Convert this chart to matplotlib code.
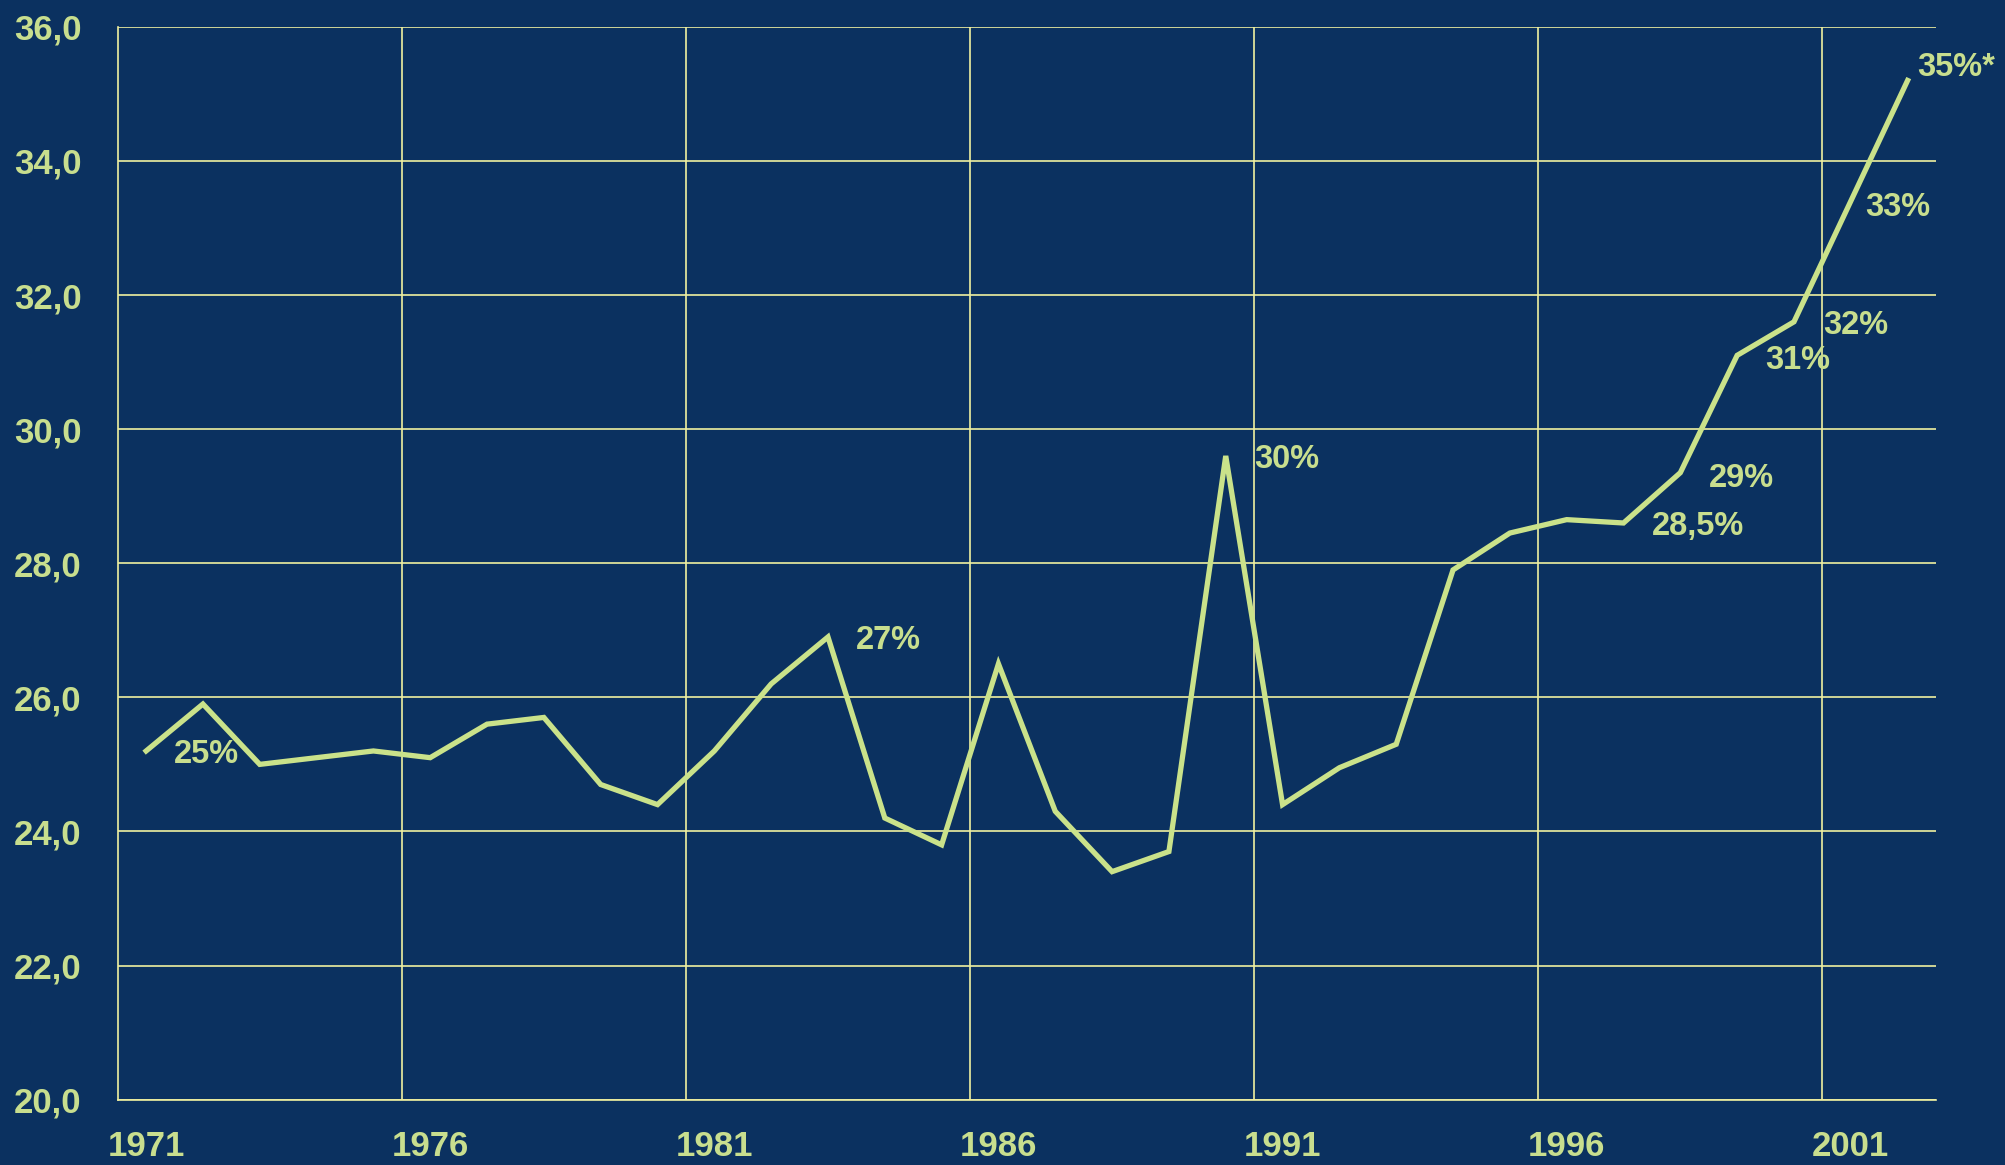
import matplotlib
matplotlib.use("Agg")
import matplotlib.pyplot as plt
import numpy as np

years = list(range(1971, 2003))
values = [25.2, 25.9, 25.0, 25.1, 25.2, 25.1, 25.6, 25.7, 24.7, 24.4,
          25.2, 26.2, 26.9, 24.2, 23.8, 26.5, 24.3, 23.4, 23.7, 29.6,
          24.4, 24.95, 25.3, 27.9, 28.45, 28.65, 28.6, 29.35, 31.1, 31.6,
          33.4, 35.2]
tick_years = [1971, 1976, 1981, 1986, 1991, 1996, 2001]
y_ticks = [20, 22, 24, 26, 28, 30, 32, 34, 36]

label_texts = ["25%", "27%", "30%", "28,5%", "29%", "31%", "32%", "33%", "35%*"]
label_years = [1971, 1983, 1990, 1997, 1998, 1999, 2000, 2001, 2002]

BG = "#0B3160"
LINE = "#CAE28A"
GRID = "#F0F0A0"
TXT = "#C8DE8E"

plt.rcParams['font.family'] = ['Liberation Sans', 'DejaVu Sans']

fig = plt.figure(figsize=(20.05, 11.65), dpi=100, facecolor=BG)
ax = fig.add_axes([0.0587, 0.0561, 0.9069, 0.9209])
ax.set_facecolor(BG)

x = np.arange(len(years))
ax.plot(x, values, color=LINE, lw=3.8, solid_joinstyle='miter', zorder=3)

ax.set_xlim(-0.5, len(years) - 0.5)
ax.set_ylim(20, 36)

ax.set_yticks(y_ticks)
ax.set_yticklabels([f"{v:.1f}".replace('.', ',') for v in y_ticks])
for v in y_ticks:
    ax.axhline(v, color=GRID, lw=1.2, zorder=1)
for ty in tick_years[1:]:
    ax.axvline(years.index(ty) - 0.5, color=GRID, lw=1.2, zorder=1)

ax.set_xticks([years.index(t) for t in tick_years])
ax.set_xticklabels([str(t) for t in tick_years])
ax.tick_params(axis='both', length=0, colors=TXT, labelsize=25)
ax.tick_params(axis='x', pad=22)
ax.tick_params(axis='y', pad=26)
for lab in ax.get_xticklabels() + ax.get_yticklabels():
    lab.set_fontweight('bold')
    lab.set_color(TXT)

for side in ['top', 'right']:
    ax.spines[side].set_visible(False)
for side in ['left', 'bottom']:
    ax.spines[side].set_color(GRID)
    ax.spines[side].set_linewidth(1.2)

offsets = {"35%*": (0.86, 0.2), "33%": (0.82, -0.1), "28,5%": (1.31, -0.05),
           "29%": (1.08, -0.08), "31%": (1.07, -0.08), "32%": (1.08, -0.05),
           "30%": (1.07, -0.05), "27%": (1.07, -0.05), "25%": (1.07, -0.05)}
for t, yr in zip(label_texts, label_years):
    i = years.index(yr)
    dx, dy = offsets.get(t, (1.07, 0.0))
    ax.text(i + dx, values[i] + dy, t, color=TXT, fontsize=23.5, fontweight='bold',
            ha='center', va='center', zorder=4, clip_on=False)

fig.savefig("out.png", dpi=100, facecolor=BG)
